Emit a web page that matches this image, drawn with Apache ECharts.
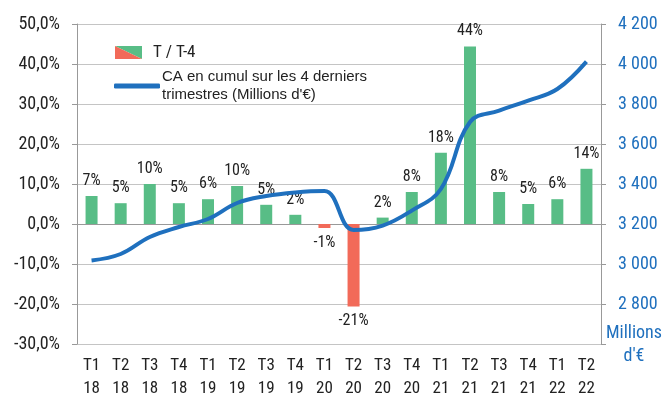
<!DOCTYPE html>
<html>
<head>
<meta charset="utf-8">
<script src="https://cdn.jsdelivr.net/npm/echarts@6/dist/echarts.min.js"></script>
<style>
  html, body { margin: 0; padding: 0; background: #fff; }
  #chart { width: 665px; height: 400px; }
</style>
</head>
<body>
<div id="chart"></div>
<script>
// quarters / years on the x axis
const quarters = ['T1', 'T2', 'T3', 'T4', 'T1', 'T2', 'T3', 'T4', 'T1', 'T2', 'T3', 'T4', 'T1', 'T2', 'T3', 'T4', 'T1', 'T2'];
const years = ['18', '18', '18', '18', '19', '19', '19', '19', '20', '20', '20', '20', '21', '21', '21', '21', '22', '22'];
// T / T-4 (%)
const growth = [7.0, 5.2, 10.0, 5.2, 6.2, 9.5, 4.8, 2.3, -1.0, -20.6, 1.6, 8.0, 17.8, 44.4, 8.0, 5.0, 6.2, 13.8];
// CA cumul 4 derniers trimestres (M€)
const caCumul = [3018, 3050, 3135, 3185, 3225, 3305, 3340, 3358, 3365, 3170, 3192, 3267, 3375, 3710, 3767, 3817, 3875, 4012];

const cond = "'Liberation Sans Narrow', 'Roboto Condensed', Roboto, sans-serif";
const green = '#58bd86';
const red = '#f26a59';
const blue = '#1f70be';
const gridCol = '#c4c4c4';

const labels = quarters.map((q, i) => q + '\n' + years[i]);

const barIcon = 'image://data:image/svg+xml;utf8,' + encodeURIComponent(
  '<svg xmlns="http://www.w3.org/2000/svg" width="27" height="13">' +
  '<polygon points="0,0 27,0 27,13" fill="' + green + '"/>' +
  '<polygon points="0,0 0,13 27,13" fill="' + red + '"/></svg>');

const fmtPct = v => v.toFixed(1).replace('.', ',') + '%';
const fmtMil = v => v === 2600 ? '' : String(v).replace(/\B(?=(\d{3})+(?!\d))/g, ' ');

const chart = echarts.init(document.getElementById('chart'));
chart.setOption({
  animation: false,
  grid: { left: 77, right: 64, top: 24, bottom: 55 },
  legend: [
    {
      left: 110, top: 39,
      itemWidth: 27, itemHeight: 13,
      data: [{ name: 'T / T-4', icon: barIcon }],
      textStyle: { fontFamily: cond, fontSize: 17, color: '#222', padding: [0, 0, 0, 6] }
    },
    {
      left: 109, top: 63,
      itemWidth: 46, itemHeight: 5,
      data: [{ name: "CA en cumul sur les 4 derniers\ntrimestres (Millions d'€)", icon: 'roundRect' }],
      textStyle: { fontFamily: "'Liberation Sans', sans-serif", fontSize: 15, lineHeight: 18, color: '#222', padding: [0, 0, 0, -3] }
    }
  ],
  xAxis: [
    {
      type: 'category',
      data: labels,
      axisLine: { onZero: true, lineStyle: { color: '#999' } },
      axisTick: { length: 4, lineStyle: { color: '#999' } },
      axisLabel: { show: false }
    },
    {
      type: 'category',
      data: labels,
      position: 'bottom',
      axisLine: { show: false, onZero: false },
      axisTick: { show: false },
      axisLabel: { fontFamily: cond, fontSize: 17, lineHeight: 23, color: '#222', margin: 10 }
    }
  ],
  yAxis: [
    {
      type: 'value', min: -30, max: 50, interval: 10,
      axisLine: { show: true, lineStyle: { color: '#999' } },
      axisTick: { show: true, length: 5, lineStyle: { color: '#999' } },
      splitLine: { lineStyle: { color: gridCol } },
      axisLabel: { formatter: fmtPct, fontFamily: cond, fontSize: 18, color: '#222', margin: 17 }
    },
    {
      type: 'value', min: 2600, max: 4200, interval: 200,
      axisLine: { show: true, lineStyle: { color: '#999' } },
      axisTick: { show: true, length: 5, lineStyle: { color: '#999' } },
      splitLine: { show: false },
      axisLabel: { formatter: fmtMil, fontFamily: cond, fontSize: 18, color: blue, margin: 17 }
    }
  ],
  graphic: [
    {
      type: 'text', x: 634, y: 322,
      style: { text: "Millions\nd'€", fill: blue, font: '18px ' + cond, lineHeight: 23, align: 'center' }
    }
  ],
  series: [
    {
      name: 'T / T-4',
      type: 'bar',
      barWidth: 12,
      itemStyle: { color: green },
      label: {
        show: true, distance: 7,
        fontFamily: cond, fontSize: 16, color: '#222',
        formatter: p => Math.round(p.value) + '%'
      },
      data: growth.map(v => ({
        value: v,
        itemStyle: { color: v < 0 ? red : green },
        label: { position: v < 0 ? 'bottom' : 'top' }
      }))
    },
    {
      name: "CA en cumul sur les 4 derniers\ntrimestres (Millions d'€)",
      type: 'line',
      yAxisIndex: 1,
      smooth: 0.4,
      showSymbol: false,
      lineStyle: { color: blue, width: 4 },
      itemStyle: { color: blue },
      data: caCumul
    }
  ]
});
</script>
</body>
</html>
